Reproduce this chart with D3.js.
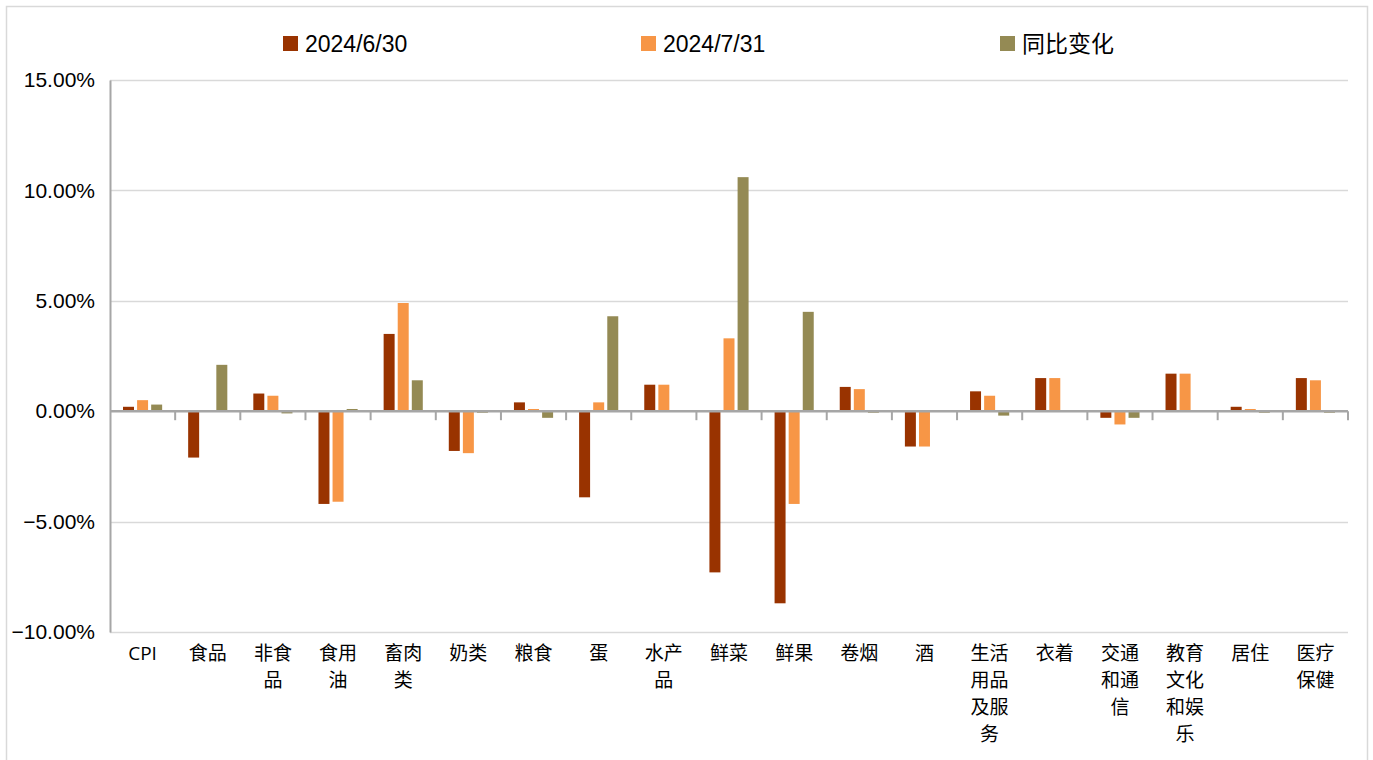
<!DOCTYPE html>
<html>
<head>
<meta charset="utf-8">
<script src="https://cdn.jsdelivr.net/npm/d3@7"></script>
<style>
  body { margin: 0; background: #fff; }
  svg text { fill: #000; }
</style>
</head>
<body>
<div id="chart"></div>
<script>
// catégories (axe x)
const categories = ["CPI", "食品", "非食品", "食用油", "畜肉类", "奶类", "粮食", "蛋", "水产品", "鲜菜",
  "鲜果", "卷烟", "酒", "生活用品及服务", "衣着", "交通和通信", "教育文化和娱乐", "居住", "医疗保健"];
const seriesNames = ["2024/6/30", "2024/7/31", "同比变化"];
const seriesColors = ["#993300", "#F79646", "#948A54"];
// valeurs en %
const valsJun = [0.2, -2.1, 0.8, -4.2, 3.5, -1.8, 0.4, -3.9, 1.2, -7.3, -8.7, 1.1, -1.6, 0.9, 1.5, -0.3, 1.7, 0.2, 1.5];
const valsJul = [0.5, 0, 0.7, -4.1, 4.9, -1.9, 0.1, 0.4, 1.2, 3.3, -4.2, 1.0, -1.6, 0.7, 1.5, -0.6, 1.7, 0.1, 1.4];
const valsYoy = [0.3, 2.1, -0.1, 0.1, 1.4, -0.05, -0.3, 4.3, 0, 10.6, 4.5, -0.05, 0, -0.2, 0, -0.3, 0, -0.05, -0.05];
const yTicks = [15, 10, 5, 0, -5, -10];

const W = 1373, H = 760;
const margin = { top: 80, right: 25, bottom: 128, left: 110 };

const svg = d3.select("#chart").append("svg")
  .attr("width", W).attr("height", H);

// cadre
svg.append("rect")
  .attr("x", 6.5).attr("y", 6.5)
  .attr("width", 1361).attr("height", 800)
  .attr("fill", "none").attr("stroke", "#d9d9d9").attr("stroke-width", 1.5);

const x0 = d3.scaleBand().domain(categories).range([margin.left, W - margin.right]).padding(0);
const x1 = d3.scaleBand().domain(seriesNames).range([13, x0.bandwidth() - 13]).paddingInner(0.22);
const y = d3.scaleLinear().domain([-10, 15]).range([H - margin.bottom, margin.top]);

// grille
svg.append("g").selectAll("line")
  .data(yTicks.filter(t => t !== 0))
  .join("line")
  .attr("x1", margin.left).attr("x2", W - margin.right)
  .attr("y1", d => Math.round(y(d)) + 0.5).attr("y2", d => Math.round(y(d)) + 0.5)
  .attr("stroke", "#d9d9d9").attr("stroke-width", 1.5);

// axe y
const yAxis = svg.append("g")
  .attr("transform", `translate(${margin.left},0)`)
  .call(d3.axisLeft(y).tickValues(yTicks).tickFormat(d => d3.format(".2f")(d) + "%").tickSize(0).tickPadding(15));
yAxis.select(".domain").attr("stroke", "#a6a6a6").attr("stroke-width", 2);
yAxis.selectAll("text")
  .attr("font-family", "Liberation Sans, Arial, sans-serif")
  .attr("font-size", 21).style("fill", "#000");

// barres
const table = categories.map((c, i) => ({ cat: c, values: [valsJun[i], valsJul[i], valsYoy[i]] }));
const groups = svg.append("g").selectAll("g")
  .data(table)
  .join("g")
  .attr("transform", d => `translate(${x0(d.cat)},0)`);

groups.selectAll("rect")
  .data(d => d.values.map((v, k) => ({ key: seriesNames[k], v: v, k: k })))
  .join("rect")
  .attr("x", d => x1(d.key))
  .attr("width", x1.bandwidth())
  .attr("y", d => Math.min(y(d.v), y(0)))
  .attr("height", d => Math.max(Math.abs(y(d.v) - y(0)), d.v === 0 ? 0 : 1.5))
  .attr("fill", d => seriesColors[d.k]);

// axe x (ligne zéro + graduations)
const zeroY = y(0);
svg.append("line")
  .attr("x1", margin.left).attr("x2", W - margin.right)
  .attr("y1", zeroY).attr("y2", zeroY)
  .attr("stroke", "#a6a6a6").attr("stroke-width", 2.5);
svg.append("g").selectAll("line")
  .data(categories.slice(1).map(c => x0(c)).concat([W - margin.right]))
  .join("line")
  .attr("x1", d => d).attr("x2", d => d)
  .attr("y1", zeroY).attr("y2", zeroY + 9)
  .attr("stroke", "#a6a6a6").attr("stroke-width", 2);

// étiquettes x, coupées tous les 2 caractères
const labels = svg.append("g").selectAll("text")
  .data(categories)
  .join("text")
  .attr("x", d => x0(d) + x0.bandwidth() / 2)
  .attr("y", 660)
  .attr("text-anchor", "middle")
  .attr("font-size", 19)
  .attr("font-family", d => d === "CPI" ? "Open Sans, Noto Sans, sans-serif" : "Noto Sans CJK SC, sans-serif");

labels.each(function(d) {
  const parts = d === "CPI" ? [d] : d.match(/.{1,2}/g);
  d3.select(this).selectAll("tspan")
    .data(parts)
    .join("tspan")
    .attr("x", x0(d) + x0.bandwidth() / 2)
    .attr("dy", (p, i) => i === 0 ? 0 : 27)
    .text(p => p);
});

// légende
const legendX = [283, 641, 1000];
const legend = svg.append("g").selectAll("g")
  .data(seriesNames)
  .join("g")
  .attr("transform", (d, i) => `translate(${legendX[i]},36)`);
legend.append("rect")
  .attr("width", 15).attr("height", 15)
  .attr("fill", (d, i) => seriesColors[i]);
legend.append("text")
  .attr("x", 22).attr("y", 16)
  .attr("font-size", 23)
  .attr("font-family", (d, i) => i === 2 ? "Noto Sans CJK SC, sans-serif" : "Liberation Sans, Arial, sans-serif")
  .text(d => d);
</script>
</body>
</html>
